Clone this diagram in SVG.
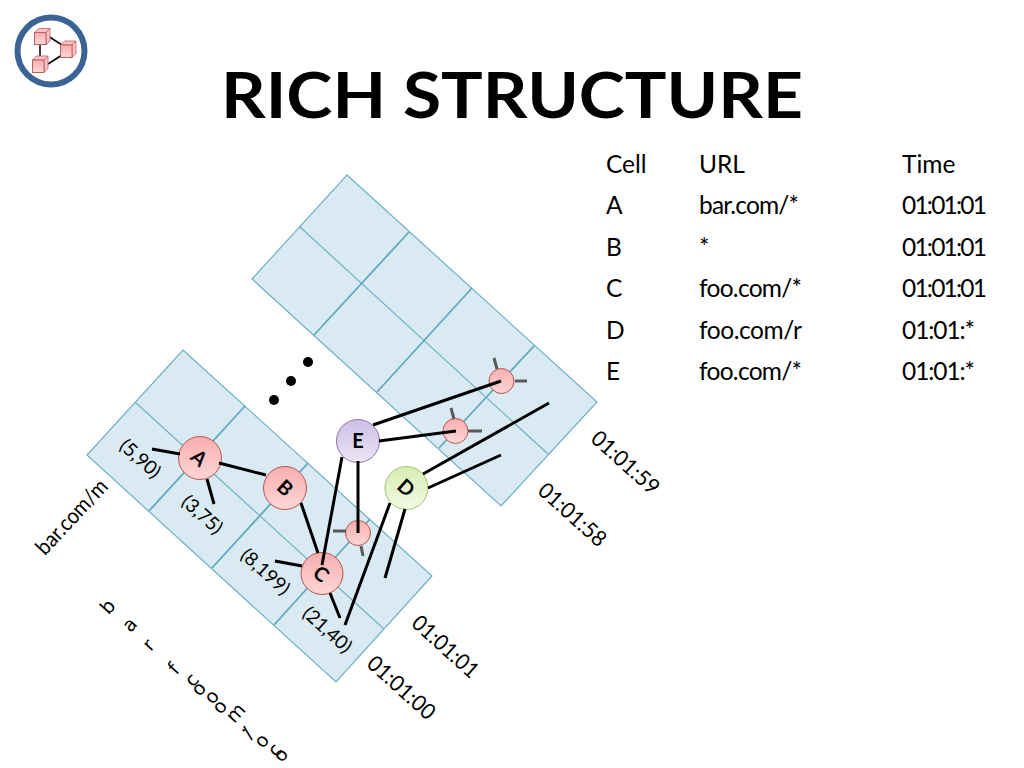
<svg xmlns="http://www.w3.org/2000/svg" width="1024" height="768" viewBox="0 0 1024 768">
<style>
text{font-family:"Lato","Open Sans",sans-serif;fill:#000}
.title{font-size:63px;font-weight:700}
.tb{font-size:24.500px}
.ax{font-size:22px;text-anchor:middle}
.dat{font-size:19px;text-anchor:middle}
.nl{font-size:20px;font-weight:700;text-anchor:middle}
.st{font-family:"DejaVu Sans",sans-serif;font-size:19px;text-anchor:middle}
.cell{fill:#d9eaf3;stroke:#6fb0c4;stroke-width:1.2}
.g{stroke:#6fb0c4;fill:none;stroke-width:1.2}
.g2{stroke:#5fa9bd;fill:none;stroke-width:1.8}
.e{stroke:#000;stroke-width:3;fill:none}
.s{stroke:#595959;stroke-width:3;fill:none}
.red{fill:url(#r);stroke:#b85450;stroke-width:1}
.cube{fill:url(#r);stroke:#c06060;stroke-width:1}
.top{fill:#f9c4c4;stroke:#c06060;stroke-width:.8}
</style>
<defs>
<linearGradient id="r" x1="0" y1="0" x2="0" y2="1"><stop offset="0" stop-color="#f8aeae"/><stop offset="1" stop-color="#ffd6d6"/></linearGradient>
<linearGradient id="p" x1="0" y1="0" x2="0" y2="1"><stop offset="0" stop-color="#cbbfe6"/><stop offset="1" stop-color="#ebe6f5"/></linearGradient>
<linearGradient id="gn" x1="0" y1="0" x2="0" y2="1"><stop offset="0" stop-color="#d5ecb0"/><stop offset="1" stop-color="#f4fbe6"/></linearGradient>
</defs>
<g id="logo">
<circle cx="51" cy="51" r="33.500" fill="#fff" stroke="#3b6494" stroke-width="6"/>
<path d="M48 36L62 45M40 45L40 60M48 64L62 55" fill="none" stroke="#000" stroke-width="1.500"/>
<g id="cube1"><path class="top" d="M34.500 32.500l4-4h11.500l-4 4z"/><path class="top" d="M46 32.500l4-4v12.500l-4 4z"/><rect class="cube" x="34.500" y="32.500" width="11.500" height="12"/></g>
<g id="cube2"><path class="top" d="M60.500 45l4-4h11.500l-4 4z"/><path class="top" d="M72 45l4-4v12.500l-4 4z"/><rect class="cube" x="60.500" y="45" width="11.500" height="12.500"/></g>
<g id="cube3"><path class="top" d="M32.500 60l4-4h11.500l-4 4z"/><path class="top" d="M44 60l4-4v12.500l-4 4z"/><rect class="cube" x="32.500" y="60" width="11.500" height="12.500"/></g>
</g>
<text class="title" x="221" y="118" textLength="582" lengthAdjust="spacingAndGlyphs">RICH STRUCTURE</text>
<g id="table">
<text class="tb" x="606" y="173">Cell</text><text class="tb" x="699" y="173">URL</text><text class="tb" x="902" y="173">Time</text>
<text class="tb" x="606" y="214">A</text><text class="tb" x="699" y="214" textLength="100">bar.com/*</text><text class="tb" x="902" y="214" textLength="85">01:01:01</text>
<text class="tb" x="606" y="256">B</text><text class="tb" x="699" y="256">*</text><text class="tb" x="902" y="256" textLength="85">01:01:01</text>
<text class="tb" x="606" y="297">C</text><text class="tb" x="699" y="297" textLength="103">foo.com/*</text><text class="tb" x="902" y="297" textLength="85">01:01:01</text>
<text class="tb" x="606" y="339">D</text><text class="tb" x="699" y="339" textLength="103">foo.com/r</text><text class="tb" x="902" y="339" textLength="73">01:01:*</text>
<text class="tb" x="606" y="380">E</text><text class="tb" x="699" y="380" textLength="103">foo.com/*</text><text class="tb" x="902" y="380" textLength="73">01:01:*</text>
</g>
<g id="grid-lower">
<path class="cell" d="M183 350L432 576L336 682L87 455Z"/>
<path class="g" d="M135 402L384 629"/>
<path class="g2" d="M245 406L149 511M308 463L212 568M370 519L274 625"/>
</g>
<g id="grid-upper">
<path class="cell" d="M347 175L597 402L501 506L252 279Z"/>
<path class="g" d="M300 227L548 454"/>
<path class="g2" d="M409 232L314 335M472 288L377 392M534 346L439 448"/>
</g>
<g id="dots"><circle cx="274" cy="400" r="5"/><circle cx="291" cy="381" r="5"/><circle cx="308" cy="362" r="5"/></g>
<g id="node-a"><circle class="red" cx="200" cy="458" r="21.500"/><text class="nl" transform="translate(199 458) rotate(42)" y="7">A</text></g>
<g id="node-b"><circle class="red" cx="285" cy="488" r="21.500"/><text class="nl" transform="translate(285 488) rotate(42)" y="7">B</text></g>
<g id="node-c"><circle class="red" cx="322" cy="573.500" r="21"/><text class="nl" transform="translate(321 574) rotate(42)" y="7">C</text></g>
<g id="node-e"><circle cx="358" cy="441" r="21.500" fill="url(#p)" stroke="#9673a6"/><text class="nl" x="358" y="448">E</text></g>
<g id="node-d"><circle cx="406.500" cy="488" r="21.500" fill="url(#gn)" stroke="#a3c46a"/><text class="nl" transform="translate(406 488) rotate(42)" y="7">D</text></g>
<g id="node-s1"><circle class="red" cx="501.500" cy="381" r="12.500"/></g>
<g id="node-s2"><circle class="red" cx="455.500" cy="431" r="12.500"/></g>
<g id="node-s3"><circle class="red" cx="358" cy="533" r="12.500"/></g>
<g id="connectors">
<path class="e" d="M152 449L180 454M207 479L214 504M219 463L266 475M301 503L318 553M275 561L302 566M330 593L340 618"/>
<path class="e" d="M342 457L322 565M358 461L358 533M373 425L501 381M379 441L456 431"/>
<path class="e" d="M423 474L549 403M428 488L501 455M390 503L345 625M405 509L385 578"/>
<path class="s" d="M494 358L497 369M515 381L527 381M451 408L454 419M468 431L482 431M333 531L346 531M361 546L363 556"/>
</g>
<g id="labels">
<text class="ax" transform="translate(72 517) rotate(-47)" y="7" textLength="94" lengthAdjust="spacingAndGlyphs">bar.com/m</text>
<text class="ax" transform="translate(625 463) rotate(42)" y="7" textLength="83" lengthAdjust="spacingAndGlyphs">01:01:59</text>
<text class="ax" transform="translate(572 515) rotate(42)" y="7" textLength="83" lengthAdjust="spacingAndGlyphs">01:01:58</text>
<text class="ax" transform="translate(445 647) rotate(42)" y="7" textLength="81" lengthAdjust="spacingAndGlyphs">01:01:01</text>
<text class="ax" transform="translate(401 688) rotate(42)" y="7" textLength="83" lengthAdjust="spacingAndGlyphs">01:01:00</text>
<text class="dat" transform="translate(140 459) rotate(42)" y="6">(5,90)</text>
<text class="dat" transform="translate(202 515) rotate(42)" y="6">(3,75)</text>
<text class="dat" transform="translate(265 572) rotate(42)" y="6">(8,199)</text>
<text class="dat" transform="translate(327 630) rotate(42)" y="6">(21,40)</text>
</g>
<g id="stacked">
<text class="st" transform="translate(108 607) rotate(-48)" y="6">b</text>
<text class="st" transform="translate(130 625) rotate(-48)" y="6">a</text>
<text class="st" transform="translate(149 645) rotate(-48)" y="6">r</text>
<text class="st" transform="translate(174 669) rotate(-48)" y="6">f</text>
<text class="st" transform="translate(192 680) rotate(-48)" y="6">c</text>
<text class="st" transform="translate(199 689) rotate(-48)" y="6">o</text>
<text class="st" transform="translate(212 697) rotate(-48)" y="6">o</text>
<text class="st" transform="translate(220 707) rotate(-48)" y="6">o</text>
<text class="st" transform="translate(236 713) rotate(-48)" y="6">m</text>
<text class="st" transform="translate(240 727) rotate(-48)" y="6">.</text>
<text class="st" transform="translate(248 733) rotate(-48)" y="6">/</text>
<text class="st" transform="translate(262 741) rotate(-48)" y="6">o</text>
<text class="st" transform="translate(275 750) rotate(-48)" y="6">c</text>
<text class="st" transform="translate(281 755) rotate(-48)" y="6">o</text>
</g>
</svg>
